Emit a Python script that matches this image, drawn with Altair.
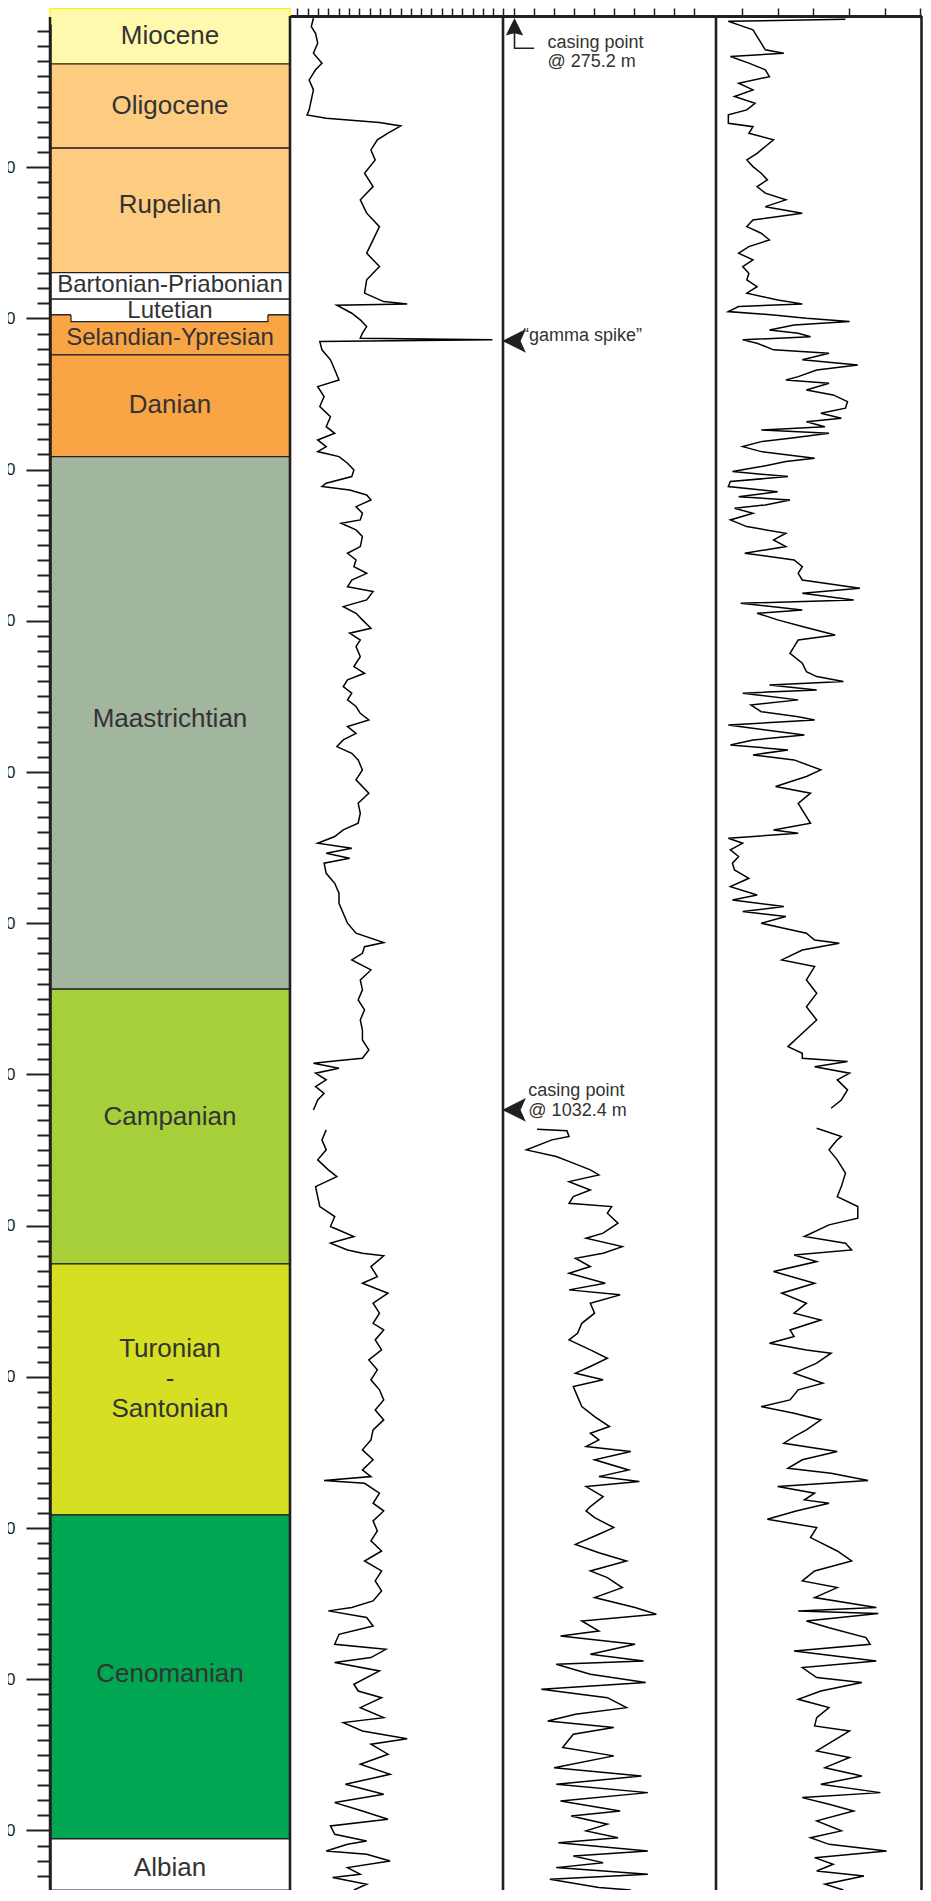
import altair as alt
import pandas as pd

INK = "#231f20"
TEXT = "#333333"
FONT = "Liberation Sans, Arial, Helvetica, sans-serif"

# ---------------- depth frame ----------------
frame_top = 300.0                      # depth of the top frame line of the log tracks
depth_min, depth_max = 305.3, 1539.4
depth_ticks = list(range(310, 1540, 10))
casing_depths = [275.2, 1032.4]

# ---------------- stratigraphy ----------------
unit_names = ["Miocene", "Oligocene", "Rupelian", "Bartonian-Priabonian", "Lutetian",
              "Selandian-Ypresian", "Danian", "Maastrichtian", "Campanian",
              "Turonian\n-\nSantonian", "Cenomanian", "Albian"]
unit_top = [295.0, 331.7, 387.4, 469.7, 487.3, 497.7, 524.1, 591.4, 943.6, 1125.3, 1291.3, 1505.6]
unit_base = [331.7, 387.4, 469.7, 487.3, 497.7, 524.1, 591.4, 943.6, 1125.3, 1291.3, 1505.6, 1539.4]
unit_label_depth = [313.5, 359.3, 425.0, 478.0, 495.0, 512.7, 557.3, 765.0, 1028.0, 1181.7, 1396.5, 1525.0]
unit_fill = ["#FFF9AE", "#FDCC80", "#FDCC80", "#FFFFFF", "#FFFFFF", "#F9A546", "#F9A546",
             "#A2B59E", "#A7CF3A", "#D7DF23", "#00A651", "#FFFFFF"]
unit_stroke = ["#FFF200"] + [INK] * 11
unit_font = [26, 26, 26, 24, 24, 24, 26, 26, 26, 26, 26, 26]

# Lutetian notch cut into the top of the Selandian-Ypresian
notch_x = [0.0875, 0.0875, 0.908, 0.908]
notch_depth = [497.7, 502.1, 502.1, 497.7]

# ---------------- log curves (track units 0-100) ----------------
t1_depth = [301.5, 307.0, 311.4, 318.0, 324.6, 331.2, 335.6, 342.3, 348.9, 355.5, 362.1, 365.4, 367.6, 370.5,
            372.7, 377.5, 381.9, 388.6, 395.2, 404.0, 412.8, 421.6, 430.4, 439.3, 448.1, 456.9, 465.7, 474.5,
            483.3, 488.9, 490.4, 491.3, 496.6, 501.0, 505.4, 509.8, 513.1, 514.2, 515.3, 520.8, 527.4, 534.0,
            540.7, 545.1, 551.7, 558.3, 565.0, 571.6, 576.0, 580.4, 584.8, 588.1, 591.4, 595.8, 600.2, 604.6,
            609.0, 611.2, 613.5, 616.8, 620.1, 624.5, 628.9, 633.3, 635.5, 639.9, 644.3, 650.9, 655.3, 659.8,
            664.2, 668.6, 673.0, 677.4, 680.7, 686.2, 690.6, 695.0, 699.4, 704.9, 708.2, 712.7, 717.1, 723.7,
            730.3, 734.7, 739.1, 743.5, 747.9, 752.3, 756.7, 761.2, 765.6, 770.0, 774.4, 778.8, 783.2, 787.6,
            792.0, 798.6, 805.2, 814.0, 820.7, 827.3, 833.9, 838.3, 842.7, 847.1, 850.4, 853.7, 857.0, 860.3,
            867.0, 873.6, 880.2, 886.8, 893.4, 900.0, 906.6, 912.8, 915.5, 919.9, 924.3, 930.9, 937.5, 944.1,
            950.7, 957.3, 964.0, 970.6, 977.2, 983.8, 989.3, 990.9, 992.6, 995.9, 999.2, 1003.6, 1008.0, 1012.5,
            1016.9, 1023.5,
            1036.7, 1043.3, 1049.9, 1056.5, 1063.1, 1067.6, 1074.2, 1080.8, 1087.4, 1094.0, 1100.6, 1107.2,
            1111.6, 1116.1, 1118.3, 1120.0, 1127.1, 1133.7, 1138.1, 1144.7, 1151.3, 1157.9, 1164.6, 1169.0,
            1175.6, 1182.2, 1188.8, 1195.4, 1202.0, 1208.6, 1215.3, 1221.9, 1228.5, 1235.1, 1241.7, 1248.3,
            1254.9, 1261.6, 1266.0, 1268.6, 1270.4, 1277.0, 1283.6, 1288.7, 1295.3, 1301.9, 1308.5, 1315.2,
            1321.8, 1328.4, 1335.0, 1341.6, 1348.2, 1352.6, 1354.8, 1359.2, 1364.8, 1370.3, 1376.9, 1380.2,
            1385.7, 1389.0, 1394.5, 1403.3, 1407.8, 1412.2, 1418.8, 1425.4, 1428.7, 1434.2, 1439.3, 1443.0,
            1449.6, 1456.2, 1462.9, 1469.5, 1476.1, 1481.6, 1487.1, 1492.6, 1497.0, 1502.6, 1507.0, 1509.2,
            1513.6, 1515.8, 1520.2, 1524.6, 1529.0, 1531.2, 1535.6, 1539.4]
t1_value = [11, 10, 12, 13, 11, 15, 12, 9, 11, 10, 9, 8, 17, 42,
            52, 46, 41, 38, 40, 35, 39, 33, 36, 42, 39, 36, 42, 36,
            35, 44, 55, 22, 29, 33, 36, 34, 33, 95, 14, 15, 19, 21,
            23, 13, 16, 14, 19, 17, 21, 13, 17, 13, 23, 27, 30, 29,
            17, 15, 28, 36, 38, 31, 34, 33, 24, 31, 34, 33, 27, 31,
            30, 36, 29, 27, 39, 36, 25, 31, 34, 38, 28, 33, 31, 33,
            30, 35, 27, 25, 29, 27, 31, 33, 37, 27, 31, 25, 22, 29,
            32, 34, 31, 37, 32, 33, 32, 25, 21, 13, 29, 17, 28, 16,
            17, 21, 23, 23, 25, 27, 31, 44, 35, 34, 29, 38, 33, 34,
            32, 35, 33, 34, 34, 37, 34, 22, 11, 23, 12, 17, 12, 16,
            13, 11,
            17, 15, 17, 13, 18, 22, 12, 13, 14, 21, 19, 30,
            19, 27, 34, 44, 38, 41, 34, 46, 39, 42, 39, 44,
            40, 43, 37, 41, 38, 42, 44, 40, 44, 39, 38, 34,
            39, 34, 38, 16, 35, 42, 39, 44, 39, 41, 38, 43,
            35, 43, 40, 43, 39, 29, 18, 36, 39, 23, 21, 45,
            38, 21, 42, 30, 32, 43, 33, 44, 25, 34, 55, 38,
            46, 33, 47, 26, 44, 21, 34, 46, 19, 21, 36, 27,
            17, 36, 47, 27, 33, 20, 36, 30]

t2_depth = [1036.3, 1037.2, 1041.1, 1043.3, 1049.9, 1054.3, 1058.7, 1063.1, 1066.5, 1070.9, 1076.4, 1080.8,
            1085.2, 1087.4, 1091.8, 1098.4, 1105.0, 1108.3, 1113.9, 1118.3, 1121.6, 1127.1, 1131.5, 1138.1,
            1142.5, 1145.8, 1151.3, 1157.9, 1164.6, 1171.2, 1175.6, 1182.2, 1187.7, 1193.2, 1197.6, 1202.0,
            1206.4, 1213.1, 1219.7, 1226.3, 1232.9, 1237.3, 1241.7, 1246.1, 1249.4, 1254.9, 1261.6, 1266.0,
            1269.3, 1272.6, 1279.2, 1285.8, 1288.7, 1293.1, 1299.7, 1304.1, 1310.8, 1316.3, 1321.8, 1328.4,
            1332.8, 1339.4, 1346.0, 1352.6, 1357.0, 1361.5, 1368.1, 1371.4, 1376.9, 1383.5, 1387.9, 1390.1,
            1396.7, 1402.2, 1406.7, 1412.2, 1418.8, 1423.2, 1427.6, 1432.0, 1436.4, 1445.2, 1450.7, 1458.5,
            1464.0, 1469.5, 1475.0, 1480.5, 1487.1, 1490.4, 1495.9, 1500.3, 1504.8, 1508.1, 1513.6, 1516.9,
            1521.3, 1524.6, 1529.0, 1532.3, 1537.8, 1539.4]
t2_value = [16, 30, 31, 23, 11, 25, 33, 41, 45, 31, 41, 33,
            31, 51, 49, 54, 47, 39, 56, 47, 34, 41, 31, 48,
            31, 55, 41, 43, 37, 35, 31, 41, 49, 41, 34, 47,
            33, 35, 37, 43, 50, 41, 45, 39, 60, 43, 59, 45,
            64, 39, 47, 41, 39, 43, 52, 45, 34, 45, 58, 41,
            49, 56, 43, 62, 72, 37, 45, 27, 62, 41, 66, 25,
            41, 67, 18, 49, 58, 34, 21, 52, 33, 28, 52, 24,
            65, 25, 68, 27, 55, 32, 49, 39, 54, 26, 68, 33,
            47, 25, 68, 22, 45, 60]

t3_depth = [302.1, 303.5, 305.9, 309.2, 313.6, 318.0, 322.4, 324.6, 326.8, 331.2, 335.6, 340.1, 344.5, 348.9,
            353.3, 357.7, 362.1, 365.4, 371.0, 373.2, 377.6, 381.9, 386.3, 390.8, 395.2, 399.6, 404.0, 408.4,
            412.8, 417.2, 421.6, 426.1, 430.4, 434.9, 439.3, 443.7, 448.1, 452.5, 456.9, 461.3, 465.7, 470.2,
            474.5, 479.0, 483.3, 487.8, 490.4, 492.2, 495.5, 497.7, 499.9, 502.0, 504.4, 507.7, 509.8, 512.1,
            514.2, 516.4, 520.8, 523.0, 527.4, 530.8, 534.1, 538.5, 540.7, 542.9, 547.3, 550.6, 555.0, 559.4,
            562.7, 566.1, 568.3, 571.6, 573.8, 576.0, 579.3, 581.5, 584.8, 588.1, 592.5, 594.7, 598.0, 601.3,
            604.6, 607.9, 611.2, 614.6, 617.9, 620.1, 623.4, 625.6, 628.9, 633.3, 637.7, 642.1, 646.5, 650.9,
            655.3, 659.8, 664.2, 668.6, 673.0, 678.5, 681.8, 686.2, 688.4, 692.8, 695.0, 699.4, 703.8, 709.4,
            712.7, 717.1, 721.5, 728.1, 733.6, 736.9, 740.2, 742.4, 745.7, 747.9, 752.3, 755.7, 760.1, 763.4,
            765.6, 768.9, 775.5, 778.8, 782.1, 785.4, 788.7, 792.0, 798.6, 803.0, 809.6, 814.0, 820.7, 827.3,
            833.9, 838.3, 840.5, 843.8, 847.1, 851.5, 855.9, 860.3, 864.8, 870.3, 875.8, 881.3, 884.6, 889.0,
            892.3, 895.6, 900.0, 903.4, 906.6, 911.1, 913.3, 917.7, 924.3, 928.7, 937.5, 946.4, 955.2, 964.0,
            972.8, 981.6, 986.0, 989.3, 991.5, 994.9, 999.2, 1003.6, 1010.3, 1016.9, 1022.4,
            1035.6, 1041.1, 1043.3, 1049.9, 1056.5, 1065.3, 1074.2, 1080.8, 1087.4, 1095.1, 1099.5, 1107.2,
            1111.6, 1116.1, 1119.4, 1123.8, 1130.4, 1138.1, 1144.7, 1151.3, 1157.9, 1162.4, 1169.0, 1173.4,
            1177.8, 1182.2, 1184.4, 1191.0, 1197.6, 1204.2, 1208.6, 1215.3, 1219.7, 1224.1, 1228.5, 1235.1,
            1239.5, 1243.9, 1249.4, 1254.9, 1260.5, 1263.8, 1268.6, 1272.6, 1277.0, 1281.4, 1283.6, 1288.7,
            1294.2, 1299.7, 1306.3, 1315.2, 1321.8, 1328.4, 1335.0, 1339.4, 1346.0, 1352.6, 1354.8, 1356.6,
            1361.5, 1365.9, 1372.5, 1376.9, 1381.3, 1387.9, 1392.3, 1398.9, 1402.2, 1407.8, 1413.3, 1418.8,
            1425.4, 1430.9, 1434.2, 1440.8, 1447.4, 1451.8, 1458.5, 1464.0, 1469.5, 1475.0, 1478.3, 1482.7,
            1487.1, 1493.7, 1500.3, 1504.8, 1509.2, 1513.6, 1518.0, 1522.4, 1526.8, 1530.1, 1535.6, 1539.4]
t3_value = [63, 6, 11, 18, 20, 22, 24, 33, 7, 16, 24, 26, 11, 18,
            9, 19, 15, 6, 6, 18, 16, 28, 24, 20, 15, 18, 22, 25,
            20, 24, 34, 24, 42, 18, 15, 22, 26, 16, 11, 18, 13, 16,
            15, 20, 15, 30, 42, 11, 6, 28, 44, 65, 38, 26, 40, 46,
            13, 20, 28, 55, 42, 69, 49, 40, 34, 55, 44, 57, 64, 63,
            51, 61, 44, 53, 22, 55, 36, 22, 13, 22, 48, 34, 22, 8,
            35, 7, 6, 30, 11, 36, 24, 9, 18, 7, 15, 34, 28, 34,
            14, 38, 42, 40, 42, 70, 42, 67, 12, 42, 20, 30, 42, 58,
            40, 38, 36, 42, 44, 49, 62, 26, 49, 13, 40, 17, 22, 40,
            48, 6, 43, 18, 7, 35, 18, 38, 51, 44, 29, 46, 40, 43,
            46, 28, 40, 6, 13, 7, 11, 8, 9, 16, 7, 20, 8, 33,
            13, 34, 22, 33, 44, 48, 60, 42, 32, 48, 44, 49, 44, 49,
            42, 35, 42, 42, 64, 48, 65, 59, 64, 61, 56,
            49, 61, 59, 55, 59, 63, 61, 59, 69, 69, 55, 43,
            63, 66, 38, 49, 28, 48, 32, 44, 38, 51, 36, 38,
            26, 44, 56, 49, 38, 52, 40, 36, 22, 38, 51, 44,
            38, 33, 59, 42, 35, 56, 74, 30, 48, 43, 55, 39,
            25, 49, 46, 59, 66, 48, 42, 59, 48, 78, 40, 79,
            44, 55, 73, 75, 38, 78, 42, 49, 71, 51, 40, 55,
            49, 48, 65, 57, 49, 65, 53, 71, 51, 80, 42, 55,
            67, 49, 61, 46, 55, 83, 48, 57, 49, 72, 53, 62]

# top-of-track scale ticks (track units)
t1_ticks = [3.5, 8.3, 13.2, 18.0, 22.9, 27.7, 32.5, 37.4, 42.2, 47.1, 51.9, 56.7, 61.6, 66.4,
            71.3, 76.1, 80.9, 85.8, 90.6, 95.5, 99.8]
t2_ticks = [5.2, 14.6, 24.0, 33.4, 42.7, 52.1, 61.5, 70.9, 80.3, 89.7]
t3_ticks = [12.7, 30.0, 47.4, 64.8, 82.2, 99.5]

# annotations (track 2 units)
note_text = ["casing point", f"@ {casing_depths[0]} m", "\u201cgamma spike\u201d",
             "casing point", f"@ {casing_depths[1]} m"]
note_v = [20.9, 20.9, 9.4, 11.9, 11.9]
note_depth = [317.6, 330.2, 511.6, 1011.0, 1024.3]
up_arrow_v, up_arrow_depth = [5.4], [307.1]
left_arrow_v, left_arrow_depth = [5.2, 5.2], [514.9, 1023.5]
elbow_v, elbow_depth = [5.4, 5.4, 14.6], [311.0, 321.3, 321.3]

# ---------------- data frames ----------------
units = pd.DataFrame({"name": unit_names, "top": unit_top, "base": unit_base,
                      "label_depth": unit_label_depth, "fill": unit_fill,
                      "stroke": unit_stroke, "fsize": unit_font})
notch_line_df = pd.DataFrame({"sx": notch_x, "depth": notch_depth, "k": range(4)})
notch_cover_df = pd.DataFrame({"x0": [notch_x[0]], "x1": [notch_x[2]],
                               "top": [notch_depth[0] - 0.7], "base": [notch_depth[1]]})


def log_frame(depths, values):
    df = pd.DataFrame({"depth": depths, "v": values})
    df["run"] = ["upper" if d < casing_depths[1] else "lower" for d in depths]
    return df


t1 = log_frame(t1_depth, t1_value)
t2 = log_frame(t2_depth, t2_value)
t3 = log_frame(t3_depth, t3_value)

# ---------------- scales / axes ----------------
depth_scale = alt.Scale(domain=[depth_min, depth_max], reverse=True, nice=False, zero=False)
depth_axis = alt.Axis(
    orient="left", values=depth_ticks, title=None, grid=False, format="d",
    labelExpr="datum.value % 100 === 0 ? datum.label : ''",
    tickSize={"condition": {"test": "datum.value % 100 === 0", "value": 24}, "value": 13},
    tickWidth=2, tickColor=INK, domainColor=INK, domainWidth=2.5,
    labelFont=FONT, labelFontSize=17, labelColor=INK, labelPadding=11,
    labelOverlap=False, zindex=1,
)


def Y(field):
    return alt.Y(f"{field}:Q", scale=depth_scale, axis=depth_axis)


def YD(value):
    return alt.YDatum(value, type="quantitative", scale=depth_scale, axis=depth_axis)


strat_scale = alt.Scale(domain=[0, 1], range=[0, 240], nice=False, zero=False)
t1_scale = alt.Scale(domain=[0, 100], range=[240, 453], nice=False, zero=False)
t2_scale = alt.Scale(domain=[0, 100], range=[453, 666], nice=False, zero=False)
t3_scale = alt.Scale(domain=[0, 100], range=[666, 871.5], nice=False, zero=False)


def top_axis(vals):
    return alt.Axis(orient="top", values=vals, labels=False, title=None, grid=False,
                    tickSize=8, tickWidth=1.5, tickColor=INK, domainColor=INK,
                    domainWidth=3, zindex=1, offset=8)


# ---------------- stratigraphic column ----------------
rects = alt.Chart(units).mark_rect(strokeWidth=1.2).encode(
    x=alt.XDatum(0, type="quantitative", scale=strat_scale, axis=None),
    x2=alt.X2Datum(1),
    y=Y("top"), y2="base:Q",
    fill=alt.Fill("fill:N", scale=None),
    stroke=alt.Stroke("stroke:N", scale=None),
)
notch_cover = alt.Chart(notch_cover_df).mark_rect(fill="white", strokeWidth=0).encode(
    x=alt.X("x0:Q", scale=strat_scale, axis=None), x2="x1:Q", y=Y("top"), y2="base:Q")
notch_line = alt.Chart(notch_line_df).mark_line(color=INK, strokeWidth=1.2).encode(
    x=alt.X("sx:Q", scale=strat_scale, axis=None), y=Y("depth"), order="k:Q")
labels = alt.Chart(units).mark_text(font=FONT, color=TEXT, baseline="middle", align="center",
                                    lineBreak="\n", lineHeight=30).encode(
    x=alt.XDatum(0.5, type="quantitative", scale=strat_scale, axis=None),
    y=Y("label_depth"), text="name:N", size=alt.Size("fsize:Q", scale=None))
depth_line = alt.Chart(pd.DataFrame({"k": [0]})).mark_rule(color=INK, strokeWidth=2.5).encode(
    x=alt.XDatum(0, type="quantitative", scale=strat_scale, axis=None),
    y=YD(frame_top + 0.6), y2=alt.Y2Datum(depth_max))
strat = alt.layer(rects, notch_cover, notch_line, labels, depth_line)


# ---------------- log tracks ----------------
def track(df, scale, ticks, edges, extra=()):
    ax = top_axis(ticks)
    curve = alt.Chart(df).mark_line(color="black", strokeWidth=1.5).encode(
        x=alt.X("v:Q", scale=scale, axis=ax), y=Y("depth"),
        order="depth:Q", detail="run:N")
    rules = alt.Chart(pd.DataFrame({"v": edges})).mark_rule(color=INK, strokeWidth=2.6).encode(
        x=alt.X("v:Q", scale=scale, axis=ax), y=YD(frame_top), y2=alt.Y2Datum(depth_max))
    return alt.layer(curve, rules, *extra)


UP = "M0,-1L1,1L0,0.75L-1,1Z"
LEFT = "M-1,0L1,-1L0.55,0L1,1Z"
up_arrow = alt.Chart(pd.DataFrame({"v": up_arrow_v, "depth": up_arrow_depth})).mark_point(
    shape=UP, filled=True, size=300, color=INK, opacity=1).encode(
    x=alt.X("v:Q", scale=t2_scale, axis=top_axis(t2_ticks)), y=Y("depth"))
left_arrows = alt.Chart(pd.DataFrame({"v": left_arrow_v, "depth": left_arrow_depth})).mark_point(
    shape=LEFT, filled=True, size=560, color=INK, opacity=1).encode(
    x=alt.X("v:Q", scale=t2_scale, axis=top_axis(t2_ticks)), y=Y("depth"))
elbow = alt.Chart(pd.DataFrame({"v": elbow_v, "depth": elbow_depth, "k": range(3)})).mark_line(
    color=INK, strokeWidth=1.6).encode(
    x=alt.X("v:Q", scale=t2_scale, axis=top_axis(t2_ticks)), y=Y("depth"), order="k:Q")
notes = alt.Chart(pd.DataFrame({"v": note_v, "depth": note_depth, "t": note_text})).mark_text(
    font=FONT, fontSize=18, color=TEXT, align="left", baseline="middle").encode(
    x=alt.X("v:Q", scale=t2_scale, axis=top_axis(t2_ticks)), y=Y("depth"), text="t:N")

track1 = track(t1, t1_scale, t1_ticks, [0, 100])
track2 = track(t2, t2_scale, t2_ticks, [100], (elbow, up_arrow, left_arrows, notes))
track3 = track(t3, t3_scale, t3_ticks, [100])

chart = alt.layer(strat, track1, track2, track3).resolve_scale(x="independent").properties(
    width=873, height=1866,
    autosize=alt.AutoSizeParams(type="none"),
    padding={"left": 42, "top": 16, "right": 0, "bottom": 0},
    background="white",
).configure_view(stroke=None)

chart.save("out.html", embed_options={"renderer": "svg", "actions": False})
